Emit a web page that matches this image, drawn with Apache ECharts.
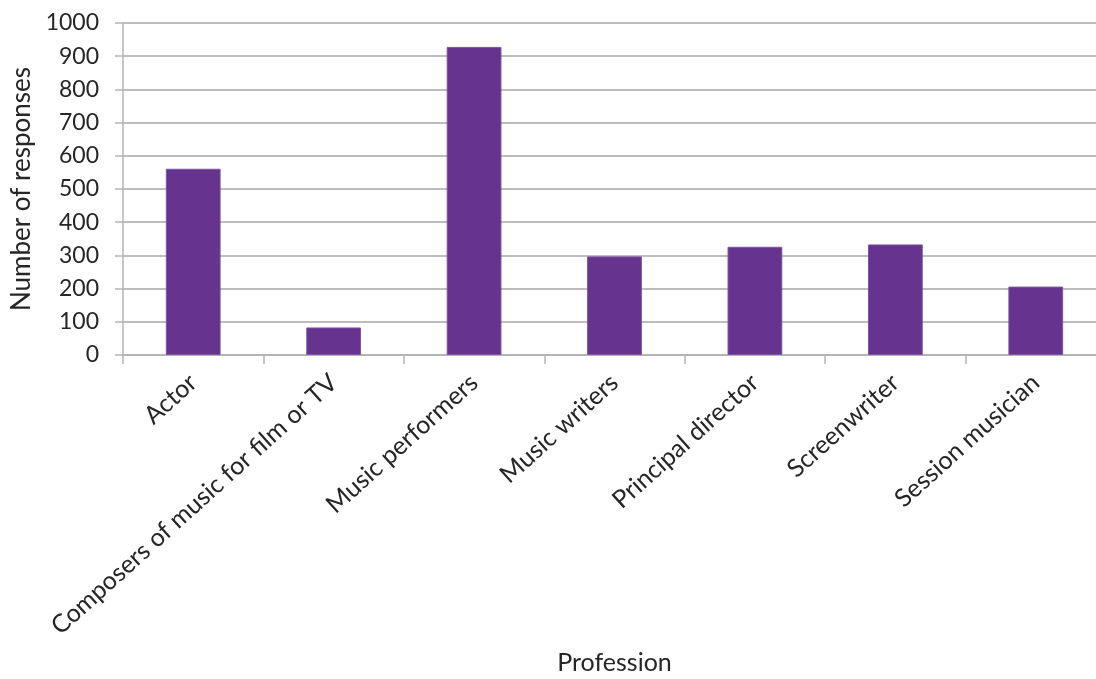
<!DOCTYPE html>
<html>
<head>
<meta charset="utf-8">
<script src="https://cdn.jsdelivr.net/npm/echarts@6/dist/echarts.min.js"></script>
<style>
html,body{margin:0;padding:0;background:#fff;overflow:hidden;}
#chart{width:1096px;height:679px;}
</style>
</head>
<body>
<div id="chart"></div>
<script>
const categories = ["Actor", "Composers of music for film or TV", "Music performers", "Music writers", "Principal director", "Screenwriter", "Session musician"];
const responses = [561, 83, 928, 297, 326, 333, 206];
const yTicks = { min: 0, max: 1000, interval: 100 };

const chart = echarts.init(document.getElementById('chart'));
const font = 'Lato, "DejaVu Sans", sans-serif';
chart.setOption({
  animation: false,
  grid: { left: 123, width: 983, top: 23, bottom: 324, containLabel: false, outerBoundsMode: 'none' },
  xAxis: {
    type: 'category',
    data: categories,
    name: 'Profession',
    nameLocation: 'middle',
    nameGap: 295,
    nameTextStyle: { fontFamily: font, fontSize: 25, color: '#262626' },
    axisLine: { lineStyle: { color: '#b5b5b5', width: 2 } },
    axisTick: { show: true, length: 9, alignWithLabel: false, lineStyle: { color: '#b5b5b5', width: 1.5 } },
    axisLabel: { rotate: 42, margin: 24, fontFamily: font, fontSize: 25, color: '#262626', interval: 0 }
  },
  yAxis: {
    type: 'value',
    min: yTicks.min, max: yTicks.max, interval: yTicks.interval,
    name: 'Number of responses',
    nameLocation: 'middle',
    nameGap: 81,
    nameRotate: 90,
    nameTextStyle: { fontFamily: font, fontSize: 26, color: '#262626' },
    axisLine: { show: true, lineStyle: { color: '#b5b5b5', width: 1.5 } },
    axisTick: { show: true, length: 8, lineStyle: { color: '#b5b5b5', width: 1.5 } },
    axisLabel: { margin: 24, fontFamily: font, fontSize: 23, color: '#262626', formatter: function (v) { return String(v); } },
    splitLine: { lineStyle: { color: '#bdbdbd', width: 2 } }
  },
  series: [{
    type: 'bar',
    data: responses,
    barWidth: '39%',
    itemStyle: { color: '#66338f', borderColor: '#7b55a3', borderWidth: 1 }
  }]
});
</script>
</body>
</html>
